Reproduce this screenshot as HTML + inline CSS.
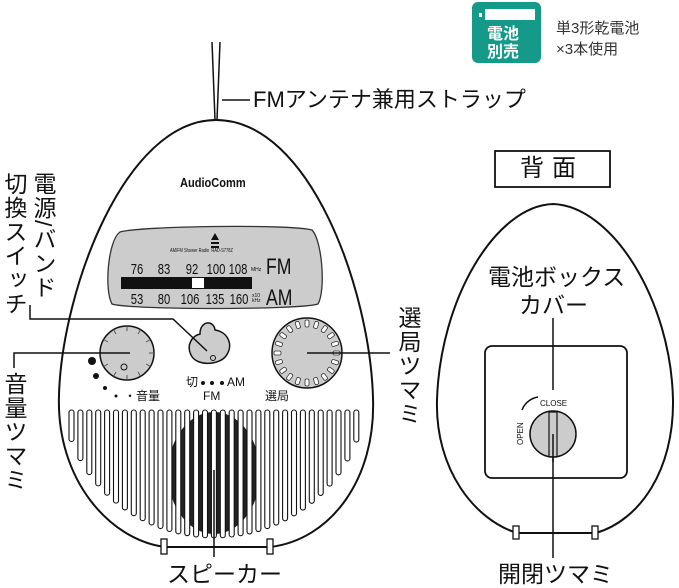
<!DOCTYPE html>
<html><head><meta charset="utf-8"><style>
body{margin:0;background:#fff;width:679px;height:588px;overflow:hidden;position:relative;font-family:"Liberation Sans","Noto Sans CJK JP",sans-serif;}
.t{position:absolute;color:#111;white-space:nowrap;line-height:1;}
.v{writing-mode:vertical-rl;letter-spacing:1px;}
.n{position:absolute;font-size:15px;line-height:1;color:#111;transform:translateX(-50%) scaleX(0.75);}
svg{position:absolute;left:0;top:0;}
</style></head><body>
<svg width="679" height="588" viewBox="0 0 679 588" id="s">
<g fill="none" stroke="#111" stroke-width="1.8">
<path d="M212,42 L215,120 M220,42 L217,120" stroke-width="1.5"/>
<line x1="222" y1="100" x2="250" y2="100" stroke-width="1.5"/>
<path d="M216,120 C125,120 62,290 59,395 C56,480 110,540 165,547 L270,547 C330,540 376,480 373,398 C370,290 310,120 216,120 Z" stroke-width="2"/>
<path d="M553,204 C495,206 440,300 437,400 C435,470 475,520 517,533 L596,533 C640,520 674,470 673,400 C671,300 612,206 553,204 Z" stroke-width="2"/>
</g>
<g fill="#fff" stroke="#111" stroke-width="1.3">
<rect x="161" y="539" width="6" height="15"/><rect x="267" y="539" width="6" height="15"/>
<rect x="513" y="526" width="6" height="13"/><rect x="592" y="526" width="6" height="13"/>
</g>
<path d="M120,232 C140,226 290,224 312,230 C322,240 326,290 318,304 C300,310 130,310 112,304 C104,290 108,240 120,232 Z" fill="#ccc" stroke="#333" stroke-width="1.3"/>
<rect x="121" y="277" width="131" height="12" fill="#111"/>
<rect x="192" y="278" width="12" height="10" fill="#fff"/>
<path d="M215,233 l-4,7 h8 z M211,242 h8 v2 h-8 z M211,246 h8 v2 h-8z" fill="#111"/>
<circle cx="127" cy="353" r="27" fill="#ccc" stroke="#111" stroke-width="1.5"/>
<g id="vt"></g>
<circle cx="124" cy="367" r="3" fill="none" stroke="#111"/>
<circle cx="92" cy="361" r="4" fill="#111"/><circle cx="96" cy="376" r="3" fill="#111"/><circle cx="105" cy="388" r="2" fill="#111"/><circle cx="116" cy="396" r="1.5" fill="#111"/>
<path d="M200,334 C200,320 214,320 215,330 C228,332 234,345 226,356 C218,366 196,366 191,355 C186,345 192,336 200,334 Z" fill="#ccc" stroke="#111" stroke-width="1.5"/>
<circle cx="213" cy="358" r="2.5" fill="none" stroke="#111"/>
<circle cx="203" cy="383" r="2" fill="#111"/><circle cx="212" cy="383" r="2" fill="#111"/><circle cx="222" cy="383" r="2" fill="#111"/>
<circle cx="307" cy="353" r="35" fill="#ccc" stroke="#111" stroke-width="1.5"/>
<g id="tt"></g>
<ellipse cx="214" cy="473" rx="46" ry="61" fill="#222"/>
<g id="gr"></g>
<g stroke="#111" stroke-width="1.5" fill="none">
<path d="M30,305 V319 H173 L207,351"/>
<path d="M14,368 V353 H130"/>
<path d="M307,353 H390"/>
<line x1="214" y1="470" x2="214" y2="557"/>
<line x1="553" y1="318" x2="553" y2="390"/>
<line x1="553" y1="420" x2="553" y2="558"/>
</g>
<rect x="485" y="346" width="142" height="132" rx="7" fill="none" stroke="#111" stroke-width="1.8"/>
<circle cx="553" cy="434" r="23" fill="#ccc" stroke="#111" stroke-width="1.5"/>
<rect x="549" y="412" width="8" height="45" fill="none" stroke="#111" stroke-width="1.2"/>
<line x1="553" y1="434" x2="553" y2="462" stroke="#111" stroke-width="1.5"/>
<path d="M522,410 C525,402 532,398 538,397" fill="none" stroke="#111" stroke-width="1.5"/>
<text x="540" y="406" font-size="8" font-family="Liberation Sans" fill="#111">CLOSE</text>
<text x="523" y="445" font-size="8" font-family="Liberation Sans" fill="#111" transform="rotate(-90 523 445)">OPEN</text>
<rect x="495" y="151" width="115" height="36" fill="none" stroke="#111" stroke-width="1.8"/>
<rect x="472" y="2" width="69" height="61" rx="6" fill="#159a8a"/>
<rect x="485" y="9" width="50" height="11" fill="#fff"/><rect x="479" y="13" width="3" height="4" fill="#fff"/>
</svg>
<div class="t" style="left:253px;top:89px;font-size:22px;">FMアンテナ兼用ストラップ</div>
<div class="t" style="left:180px;top:176px;font-size:13px;font-weight:bold;transform:scaleX(0.85);transform-origin:left;">AudioComm</div>
<div class="t" style="left:170px;top:249px;font-size:5px;transform:scaleX(0.8);transform-origin:left;">AM/FM Shower Radio &nbsp;RAD-S778Z</div>
<div class="n" style="left:137px;top:262px;">76</div>
<div class="n" style="left:164px;top:262px;">83</div>
<div class="n" style="left:192px;top:262px;">92</div>
<div class="n" style="left:216px;top:262px;">100</div>
<div class="n" style="left:238px;top:262px;">108</div>
<div class="n" style="left:137px;top:292px;">53</div>
<div class="n" style="left:164px;top:292px;">80</div>
<div class="n" style="left:190px;top:292px;">106</div>
<div class="n" style="left:215px;top:292px;">135</div>
<div class="n" style="left:239px;top:292px;">160</div>
<div class="t" style="left:251px;top:268px;font-size:5px;">MHz</div>
<div class="t" style="left:252px;top:294px;font-size:5px;">x10<br>kHz</div>
<div class="t" style="left:266px;top:256px;font-size:22px;transform:scaleX(0.8);transform-origin:left;">FM</div>
<div class="t" style="left:266px;top:287px;font-size:22px;transform:scaleX(0.8);transform-origin:left;">AM</div>
<div class="t" style="left:124px;top:390px;font-size:12px;">・音量</div>
<div class="t" style="left:186px;top:376px;font-size:12px;">切</div>
<div class="t" style="left:227px;top:376px;font-size:12px;">AM</div>
<div class="t" style="left:203px;top:390px;font-size:12px;">FM</div>
<div class="t" style="left:265px;top:390px;font-size:12px;">選局</div>
<div class="t v" style="left:31px;top:172px;font-size:23px;">電源/バンド</div>
<div class="t v" style="left:2px;top:172px;font-size:23px;">切換スイッチ</div>
<div class="t v" style="left:2px;top:372px;font-size:23px;">音量ツマミ</div>
<div class="t v" style="left:396px;top:306px;font-size:23px;">選局ツマミ</div>
<div class="t" style="left:167px;top:563px;font-size:23px;">スピーカー</div>
<div class="t" style="left:520px;top:157px;font-size:24px;letter-spacing:8px;">背面</div>
<div class="t" style="left:488px;top:266px;font-size:23px;">電池ボックス</div>
<div class="t" style="left:519px;top:294px;font-size:23px;">カバー</div>
<div class="t" style="left:498px;top:563px;font-size:23px;">開閉ツマミ</div>
<div class="t" style="left:487px;top:27px;font-size:16px;font-weight:bold;color:#fff;">電池</div>
<div class="t" style="left:487px;top:45px;font-size:16px;font-weight:bold;color:#fff;">別売</div>
<div class="t" style="left:556px;top:21px;font-size:15px;color:#333;">単3形乾電池</div>
<div class="t" style="left:556px;top:42px;font-size:15px;color:#333;">×3本使用</div>
<script>
var NS="http://www.w3.org/2000/svg";
function el(p,t,a){var e=document.createElementNS(NS,t);for(var k in a)e.setAttribute(k,a[k]);p.appendChild(e);return e;}
var gr=document.getElementById("gr");
for(var i=0;i<33;i++){var x=69+i*8.9;var dx=(x+2.5-214)/152;var yb=400+148*Math.sqrt(Math.max(0,1-dx*dx))-10;
 if(x>165&&x<262)yb=Math.min(yb,540);
 el(gr,"rect",{x:x,y:410,width:5,height:Math.max(10,yb-410),rx:2.5,fill:"#fff",stroke:"#111","stroke-width":1.1});}
var vt=document.getElementById("vt");
for(var a=0;a<360;a+=30){var r=a*Math.PI/180;
 el(vt,"line",{x1:127+22*Math.cos(r),y1:353+22*Math.sin(r),x2:127+27*Math.cos(r),y2:353+27*Math.sin(r),stroke:"#555","stroke-width":1});}
var tt=document.getElementById("tt");
for(var a=0;a<360;a+=18){el(tt,"rect",{x:307+26,y:353-2,width:7,height:4,rx:1.5,fill:"#fff",stroke:"#333","stroke-width":0.8,transform:"rotate("+a+" 307 353)"});}
</script>
</body></html>
